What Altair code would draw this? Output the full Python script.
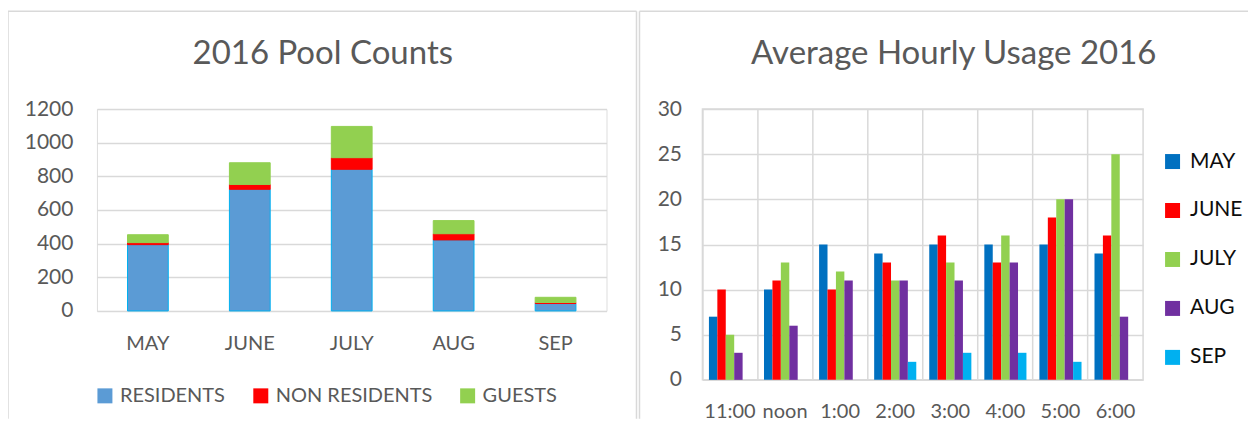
import altair as alt
import pandas as pd

# ---------------- data ----------------
months_left = ["MAY", "JUNE", "JULY", "AUG", "SEP"]
residents = [394, 723, 842, 422, 44]
non_residents = [12, 29, 69, 37, 6]
guests = [47, 129, 186, 78, 31]
series_left = ["RESIDENTS", "NON RESIDENTS", "GUESTS"]
colors_left = ["#5B9BD5", "#FF0000", "#92D050"]
strokes_left = ["#00B0F0", "#FF0000", "#92D050"]

hours = ["11:00", "noon", "1:00", "2:00", "3:00", "4:00", "5:00", "6:00"]
may = [7, 10, 15, 14, 15, 15, 15, 14]
june = [10, 11, 10, 13, 16, 13, 18, 16]
july = [5, 13, 12, 11, 13, 16, 20, 25]
aug = [3, 6, 11, 11, 11, 13, 20, 7]
sep = [0, 0, 0, 2, 3, 3, 2, 0]
months_right = ["MAY", "JUNE", "JULY", "AUG", "SEP"]
colors_right = ["#0070C0", "#FF0000", "#92D050", "#7030A0", "#00B0F0"]

left_ticks = [0, 200, 400, 600, 800, 1000, 1200]
right_ticks = [0, 5, 10, 15, 20, 25, 30]

# ---------------- tables ----------------
rows = []
for i, m in enumerate(months_left):
    for j, (s, vals) in enumerate(zip(series_left, [residents, non_residents, guests])):
        rows.append({"month": m, "series": s, "value": vals[i], "ord": j})
left_df = pd.DataFrame(rows)

rows = []
for i, h in enumerate(hours):
    for m, vals in zip(months_right, [may, june, july, aug, sep]):
        rows.append({"hour": h, "mon": m, "value": vals[i]})
right_df = pd.DataFrame(rows)

dummy = pd.DataFrame({"d": [0]})

FONT = "Lato"
GRAY = "#595959"
GRID = "#D9D9D9"
BORDER = "#D9D9D9"


def vline(x, y1, y2):
    return alt.Chart(dummy).mark_rule(color=BORDER, strokeWidth=1.5).encode(
        x=alt.value(x), y=alt.value(y1), y2=alt.value(y2))


def hline(x1, x2, y):
    return alt.Chart(dummy).mark_rule(color=BORDER, strokeWidth=1.5).encode(
        x=alt.value(x1), x2=alt.value(x2), y=alt.value(y))


# ---------------- left chart ----------------
left_bars = alt.Chart(left_df).mark_bar(strokeWidth=1).encode(
    x=alt.X("month:N", sort=months_left,
            scale=alt.Scale(paddingInner=0.6, paddingOuter=0.3),
            axis=alt.Axis(title=None, labelAngle=0, ticks=False, domain=False, grid=False,
                          labelFontSize=20, labelColor=GRAY, labelFont=FONT, labelPadding=23)),
    y=alt.Y("value:Q", stack="zero", scale=alt.Scale(domain=[0, 1200], nice=False),
            axis=alt.Axis(title=None, values=left_ticks, format="d", ticks=False, domain=False,
                          gridColor=GRID, gridWidth=1.5, labelFontSize=21, labelColor=GRAY,
                          labelFont=FONT, labelPadding=24)),
    color=alt.Color("series:N", scale=alt.Scale(domain=series_left, range=colors_left),
                    legend=alt.Legend(title=None, orient="none", legendX=-2, legendY=277,
                                      direction="horizontal", symbolType="square",
                                      symbolSize=225, symbolStrokeWidth=0,
                                      labelFontSize=20, labelColor=GRAY, labelFont=FONT,
                                      columnPadding=25, labelOffset=5)),
    stroke=alt.Stroke("series:N", scale=alt.Scale(domain=series_left, range=strokes_left),
                      legend=None),
    order=alt.Order("ord:Q"),
)

left = alt.layer(
    left_bars,
    vline(-89, -98, 310),
    hline(-89, 540, -98),
    vline(540, -98, 310),
).properties(
    width=510, height=202,
    title=alt.TitleParams("2016 Pool Counts", dx=-29, offset=-94, anchor="middle",
                          font=FONT, fontSize=33, fontWeight="normal", color=GRAY,
                          baseline="bottom"),
)

# ---------------- right chart ----------------
right_bars = alt.Chart(right_df).mark_bar().encode(
    x=alt.X("hour:N", sort=hours, scale=alt.Scale(paddingInner=0, paddingOuter=0),
            axis=alt.Axis(title=None, labelAngle=0, ticks=False, domain=False, grid=True,
                          bandPosition=0, gridColor=GRID, gridWidth=1.5,
                          labelFontSize=20, labelColor=GRAY, labelFont=FONT, labelPadding=22)),
    xOffset=alt.XOffset("mon:N", sort=months_right,
                        scale=alt.Scale(paddingInner=0, paddingOuter=0.77)),
    y=alt.Y("value:Q", scale=alt.Scale(domain=[0, 30], nice=False),
            axis=alt.Axis(title=None, values=right_ticks, ticks=False, domain=False,
                          gridColor=GRID, gridWidth=1.5, labelFontSize=21, labelColor=GRAY,
                          labelFont=FONT, labelPadding=21)),
    color=alt.Color("mon:N", scale=alt.Scale(domain=months_right, range=colors_right),
                    legend=alt.Legend(title=None, orient="none", legendX=460, legendY=42,
                                      direction="vertical", symbolType="square",
                                      symbolSize=225, symbolStrokeWidth=0,
                                      labelFontSize=21, labelColor="#0D0D0D", labelFont=FONT,
                                      rowPadding=27, labelOffset=7)),
)

right = alt.layer(
    right_bars,
    vline(-63, -98, 310),
    hline(-63, 546, -98),
).properties(
    width=441, height=271,
    view=alt.ViewBackground(stroke=GRID, strokeWidth=1.5),
    title=alt.TitleParams("Average Hourly Usage 2016", dx=31, offset=-94, anchor="middle",
                          font=FONT, fontSize=33, fontWeight="normal", color=GRAY,
                          baseline="bottom"),
)

chart = alt.hconcat(left, right, spacing=96, bounds="flush").resolve_scale(
    color="independent", stroke="independent", x="independent", y="independent",
    xOffset="independent",
).properties(
    padding={"left": -2, "top": 1, "right": 0, "bottom": 0},
).configure_view(strokeWidth=0).configure(background="white")

chart.save("out.html", embed_options={"renderer": "svg", "actions": False})
